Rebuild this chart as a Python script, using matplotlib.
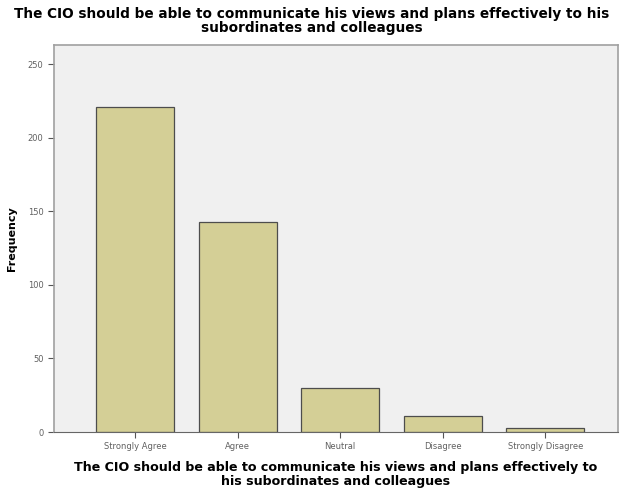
import matplotlib

matplotlib.use("Agg")
import matplotlib.pyplot as plt  # noqa: E402

QUESTION = "The CIO should be able to communicate his views and plans effectively to"
CATEGORIES = ["Strongly Agree", "Agree", "Neutral", "Disagree", "Strongly Disagree"]
FREQUENCY = [221, 143, 30, 11, 3]
Y_TICKS = [0, 50, 100, 150, 200, 250]

BAR_COLOR = "#d4cf96"
PANEL_BG = "#f0f0f0"
FRAME = "#a0a0a0"

fig = plt.figure(figsize=(6.24, 4.95), dpi=100)
ax = fig.add_axes([54 / 624, 1 - 432 / 495, (618 - 54) / 624, (432 - 45) / 495])
ax.set_facecolor(PANEL_BG)

x = range(len(CATEGORIES))
ax.bar(x, FREQUENCY, width=0.76, color=BAR_COLOR, edgecolor="#4d4d4d", linewidth=0.9)

ax.set_xlim(-0.79, 4.71)
ax.set_ylim(0, 263)
ax.set_yticks(Y_TICKS)
ax.set_xticks(list(x), CATEGORIES)
ax.tick_params(axis="both", colors="#555555", labelcolor="#606060", labelsize=6,
               length=4, width=0.8)
for side in ("left", "top", "right"):
    ax.spines[side].set_color(FRAME)
    ax.spines[side].set_linewidth(1.2)
ax.spines["bottom"].set_color("#666666")

ax.set_ylabel("Frequency", fontsize=8, fontweight="bold", labelpad=8)
ax.set_xlabel(QUESTION + "\nhis subordinates and colleagues", fontsize=9.1,
              fontweight="bold", labelpad=7, linespacing=1.1)
fig.text(
    0.5, 1 - 21 / 495,
    "The CIO should be able to communicate his views and plans effectively to his\n"
    "subordinates and colleagues",
    fontsize=9.8, fontweight="bold", ha="center", va="center", linespacing=1.0,
)

fig.savefig("out.png", dpi=100)
